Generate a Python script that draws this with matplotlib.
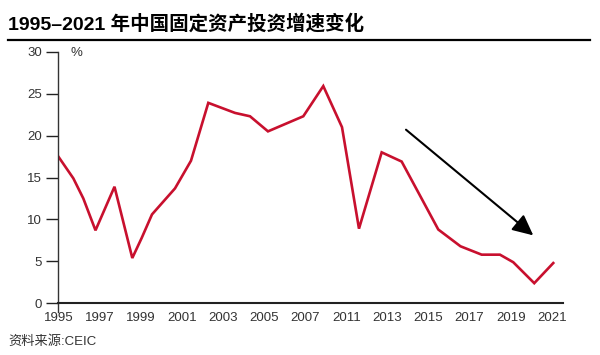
import matplotlib.pyplot as plt
from matplotlib.lines import Line2D

plt.rcParams['font.family'] = ['Liberation Sans', 'Noto Sans CJK SC']

# x 轴标签（原图跳过了 2009）
tick_labels = ['1995', '1997', '1999', '2001', '2003', '2005', '2007',
               '2011', '2013', '2015', '2017', '2019', '2021']

# 折线各拐点在横轴上的位置（以刻度间隔为单位）和增速（%）
x_pos = [0.0, 0.365, 0.608, 0.904, 1.366, 1.799, 2.028, 2.278, 2.837, 3.226,
         3.647, 4.296, 4.661, 5.098, 5.957, 6.443, 6.898, 7.311, 7.863, 8.349,
         9.239, 9.779, 10.294, 10.739, 11.062, 11.573, 12.035]
growth = [17.5, 14.9, 12.5, 8.7, 13.9, 5.4, 7.8, 10.6, 13.7, 17.0,
          23.9, 22.7, 22.3, 20.5, 22.3, 25.9, 21.0, 8.9, 18.0, 16.9,
          8.8, 6.8, 5.8, 5.8, 4.9, 2.4, 4.8]

# 下降趋势箭头（起点、终点）
arrow_start = (8.454, 20.7)
arrow_end = (11.549, 8.1)

fig = plt.figure(figsize=(6, 3.55), dpi=100)
ax = fig.add_axes([0.0972, 0.1456, 0.841, 0.7088])

ax.plot(x_pos, growth, color='#c8102e', lw=1.9, solid_joinstyle='miter')

ax.annotate('', xy=arrow_end, xytext=arrow_start,
            arrowprops=dict(arrowstyle='-|>,head_length=1.25,head_width=0.6',
                            mutation_scale=10, lw=1.5, color='black',
                            shrinkA=0, shrinkB=0))

ax.set_xlim(0, 12.27)
ax.set_ylim(0, 30)
ax.set_xticks(range(len(tick_labels)))
ax.set_xticklabels(tick_labels)
ax.set_yticks(range(0, 31, 5))

ax.tick_params(axis='y', direction='out', length=8.6, width=1, color='#222',
               pad=3, labelsize=9.5, labelcolor='#333')
ax.tick_params(axis='x', length=0, pad=6, labelsize=9.5, labelcolor='#333')

for s in ['top', 'right']:
    ax.spines[s].set_visible(False)
ax.spines['left'].set_linewidth(1)
ax.spines['left'].set_color('#333')
ax.spines['bottom'].set_linewidth(1.5)
ax.spines['bottom'].set_color('#222')
# y 轴线略微伸出横轴下方
ax.plot([0, 0], [0, -0.036], transform=ax.transAxes, color='#333',
        lw=1, clip_on=False)

ax.text(0.1167, 0.851, '%', transform=fig.transFigure, fontsize=9.5,
        color='#333', va='center')

fig.text(0.014, 0.932, '1995–2021 年中国固定资产投资增速变化',
         fontsize=14, fontweight='bold', va='center', color='black')
fig.add_artist(Line2D([8 / 600, 590 / 600], [0.887, 0.887], lw=1.6,
                      color='black', transform=fig.transFigure))

fig.text(0.014, 1 - 342 / 355, '资料来源:CEIC', fontsize=9.5,
         color='#333', va='center')

fig.savefig('out.png', dpi=100)
